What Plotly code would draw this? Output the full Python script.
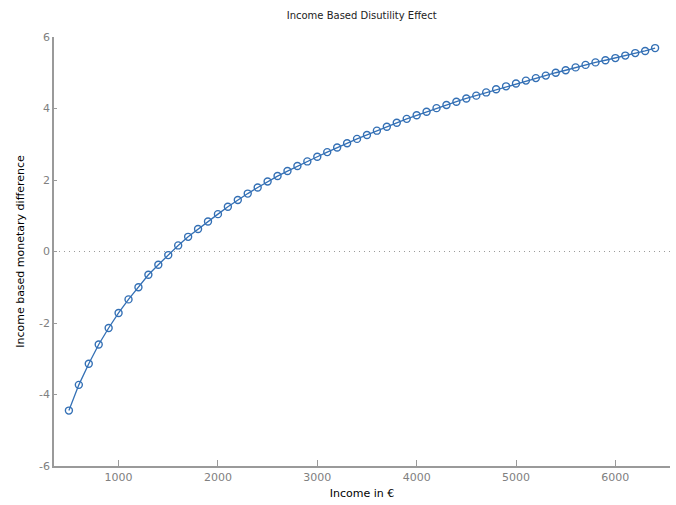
import plotly.graph_objects as go

# Income levels (EUR) and the income based monetary difference at each level
income = list(range(500, 6401, 100))
difference = [
    -4.45, -3.73, -3.14, -2.60, -2.14, -1.72, -1.34, -1.00, -0.65, -0.37,
    -0.10, 0.17, 0.41, 0.63, 0.84, 1.045, 1.25, 1.44, 1.62, 1.79,
    1.96, 2.11, 2.25, 2.39, 2.52, 2.65, 2.78, 2.91, 3.03, 3.15,
    3.26, 3.38, 3.49, 3.60, 3.71, 3.81, 3.91, 4.01, 4.10, 4.19,
    4.28, 4.36, 4.45, 4.54, 4.62, 4.70, 4.78, 4.85, 4.92, 5.00,
    5.07, 5.15, 5.22, 5.29, 5.35, 5.41, 5.48, 5.55, 5.61, 5.69,
]

x_ticks = [1000, 2000, 3000, 4000, 5000, 6000]
y_ticks = [-6, -4, -2, 0, 2, 4, 6]

LINE_COLOR = "#3470b5"
AXIS_COLOR = "#9a9a9a"
TICK_FONT_COLOR = "#808080"
FONT = "DejaVu Sans"

fig = go.Figure()
fig.add_trace(go.Scatter(
    x=income, y=difference,
    mode="lines+markers",
    line=dict(color=LINE_COLOR, width=1.3),
    marker=dict(symbol="circle-open", size=7, color=LINE_COLOR,
                line=dict(width=1.4, color=LINE_COLOR)),
    showlegend=False,
))

# dotted reference line at zero
fig.add_shape(type="line", xref="paper", yref="y", x0=0, x1=1, y0=0, y1=0,
              line=dict(color="#9a9a9a", width=1, dash="1px,4px"), layer="below")

fig.update_layout(
    width=676, height=505,
    margin=dict(l=54, r=6, t=37, b=39),
    paper_bgcolor="white", plot_bgcolor="white",
    font=dict(family=FONT, size=11, color="black"),
    title=dict(text="Income Based Disutility Effect", x=0.535, xanchor="center",
               y=1 - 15 / 505, yanchor="middle", yref="container",
               font=dict(family=FONT, size=10, color="#222222")),
    xaxis=dict(
        range=[350, 6550], tickvals=x_ticks, ticktext=[str(v) for v in x_ticks],
        showgrid=False, zeroline=False, showline=True, linecolor=AXIS_COLOR,
        linewidth=1.5, ticks="inside", ticklen=6, tickcolor=AXIS_COLOR,
        tickfont=dict(family=FONT, size=11, color=TICK_FONT_COLOR),
        title=dict(text="Income in €", standoff=6,
                   font=dict(family=FONT, size=11, color="black")),
    ),
    yaxis=dict(
        range=[-6, 6], tickvals=y_ticks, ticktext=[str(v) for v in y_ticks],
        showgrid=False, zeroline=False, showline=True, linecolor=AXIS_COLOR,
        linewidth=1.5, ticks="inside", ticklen=3, tickcolor=AXIS_COLOR,
        tickfont=dict(family=FONT, size=11, color=TICK_FONT_COLOR),
        title=dict(text="Income based monetary difference", standoff=12,
                   font=dict(family=FONT, size=11, color="black")),
    ),
)

fig.write_html("out.html")
